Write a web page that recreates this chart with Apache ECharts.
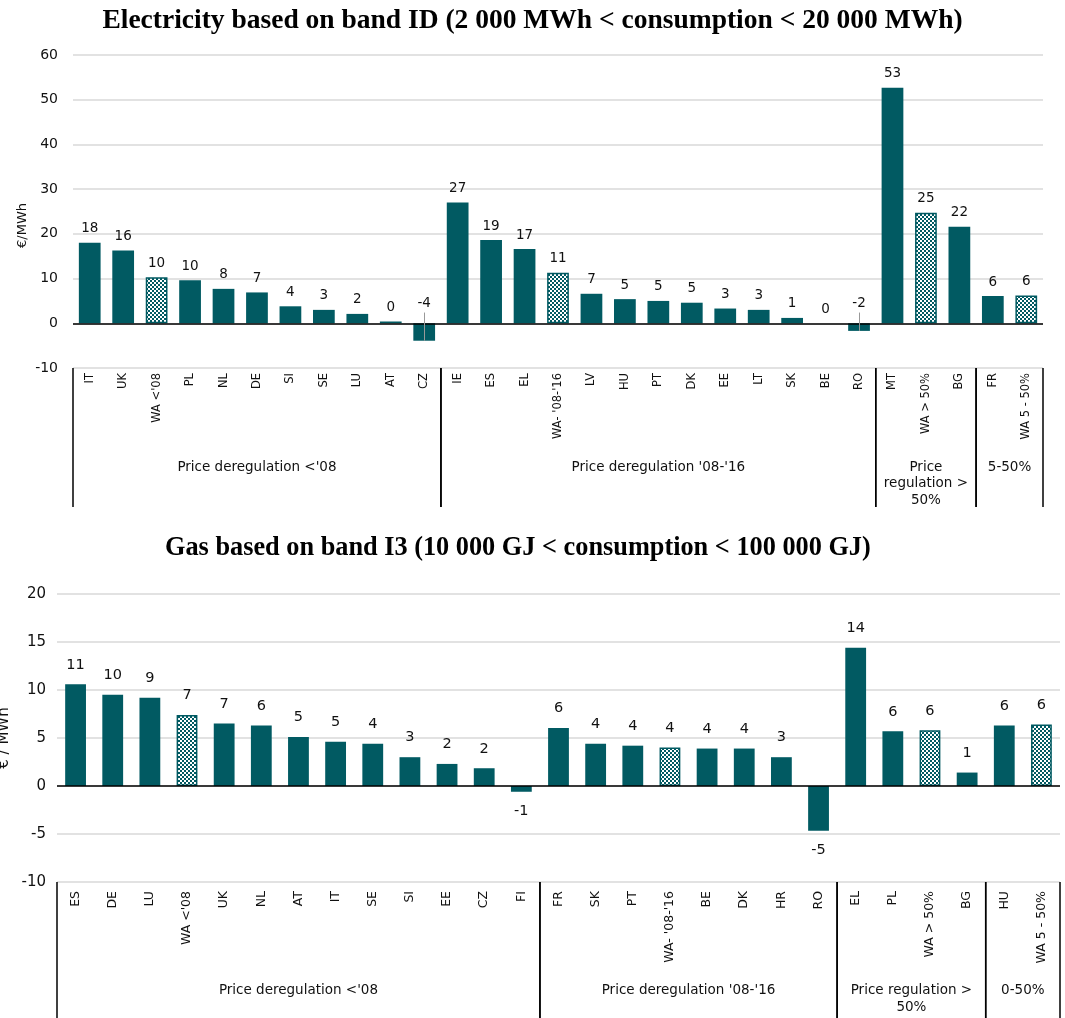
<!DOCTYPE html>
<html>
<head>
<meta charset="utf-8">
<script src="https://cdn.jsdelivr.net/npm/echarts@6/dist/echarts.min.js"></script>
<style>
html,body{margin:0;padding:0;background:#fff;}
#chart{width:1065px;height:1018px;}
</style>
</head>
<body>
<div id="chart"></div>
<script>
// ---------- DATA ----------
const elecCats = ['IT','UK',"WA <'08",'PL','NL','DE','SI','SE','LU','AT','CZ','IE','ES','EL',"WA- '08-'16",'LV','HU','PT','DK','EE','LT','SK','BE','RO','MT','WA > 50%','BG','FR','WA 5 - 50%'];
const elecVals = [18.0,16.3,10.3,9.6,7.7,6.9,3.8,3.0,2.1,0.4,-3.9,27.0,18.6,16.6,11.3,6.6,5.4,5.0,4.6,3.3,3.0,1.2,0.0,-1.7,52.7,24.7,21.6,6.1,6.2];
const elecGroups = ["Price deregulation <'08","Price deregulation '08-'16","Price\nregulation >\n50%","5-50%"];
const elecGroupSizes = [11,13,3,2];
const elecTicks = {min:-10,max:60,step:10};

const gasCats = ['ES','DE','LU',"WA <'08",'UK','NL','AT','IT','SE','SI','EE','CZ','FI','FR','SK','PT',"WA- '08-'16",'BE','DK','HR','RO','EL','PL','WA > 50%','BG','HU','WA 5 - 50%'];
const gasVals = [10.6,9.5,9.2,7.4,6.5,6.3,5.1,4.6,4.4,3.0,2.3,1.85,-0.6,6.05,4.4,4.2,4.0,3.9,3.9,3.0,-4.65,14.4,5.7,5.8,1.4,6.3,6.4];
const gasGroups = ["Price deregulation <'08","Price deregulation '08-'16","Price regulation >\n50%","0-50%"];
const gasGroupSizes = [13,8,4,2];
const gasTicks = {min:-10,max:20,step:5};

// ---------- STYLE ----------
const TEAL = '#015a62';
const FONT = 'DejaVu Sans';
const LEADER_TOP = 2.4;

function makePattern(){
  const c = document.createElement('canvas');
  c.width = 4; c.height = 4;
  const ctx = c.getContext('2d');
  ctx.fillStyle = TEAL; ctx.fillRect(0,0,4,4);
  ctx.fillStyle = '#ffffff';
  ctx.fillRect(0,0,2,2); ctx.fillRect(2,2,2,2);
  return c;
}
const patternStyle = {color:{image:makePattern(),repeat:'repeat'},borderColor:TEAL,borderWidth:1.5};

function groupRanges(sizes){
  let s = 0; return sizes.map(n => { const r=[s, s+n]; s+=n; return r; });
}

function barData(cats, vals, negPos, negDist){
  return vals.map((v,i) => {
    const d = {value:v};
    if (cats[i].indexOf('WA') === 0) d.itemStyle = patternStyle;
    if (v < 0) d.label = {position:negPos, distance:negDist};
    return d;
  });
}

function groupRenderer(names, lineLen, textTop, fontSize, lineH){
  return function(params, api){
    const s = api.value(0), e = api.value(1);
    const band = api.size([1,0])[0];
    const p0 = api.coord([s,0]), p1 = api.coord([e-1,0]);
    const x0 = p0[0]-band/2, x1 = p1[0]+band/2;
    const yb = params.coordSys.y + params.coordSys.height;
    return {type:'group', children:[
      {type:'line', shape:{x1:x0,y1:yb,x2:x0,y2:yb+lineLen}, style:{stroke:'#000',lineWidth:1.5}},
      {type:'line', shape:{x1:x1,y1:yb,x2:x1,y2:yb+lineLen}, style:{stroke:'#000',lineWidth:1.5}},
      {type:'text', x:(x0+x1)/2, y:yb+textTop, style:{text:names[params.dataIndex], fill:'#111', fontSize:fontSize, fontFamily:FONT, align:'center', verticalAlign:'top', lineHeight:lineH}}
    ]};
  };
}

const elecLeaders = [];
elecVals.forEach((v,i)=>{ if(v<0) elecLeaders.push([{coord:[elecCats[i],LEADER_TOP],lineStyle:{color:'#999',width:1,type:'solid'}},{coord:[elecCats[i],v]}]); });

const chart = echarts.init(document.getElementById('chart'), null, {renderer:'canvas'});
const option = {
  animation:false,
  backgroundColor:'#fff',
  title:[
    {text:'Electricity based on band ID (2 000 MWh < consumption < 20 000 MWh)', left:'center', top:2,
     textStyle:{fontFamily:'Liberation Serif', fontWeight:'bold', fontSize:27.5, color:'#000'}},
    {text:'Gas based on band I3 (10 000 GJ < consumption < 100 000 GJ)', left:160, top:530,
     textStyle:{fontFamily:'Liberation Serif', fontWeight:'bold', fontSize:26.3, color:'#000'}}
  ],
  grid:[
    {left:73,right:22,top:55,height:313,outerBoundsMode:'none',containLabel:false},
    {left:57,right:5,top:594,height:288,outerBoundsMode:'none',containLabel:false}
  ],
  xAxis:[
    {gridIndex:0,type:'category',data:elecCats,axisLine:{show:false},axisTick:{show:false},
     axisLabel:{interval:0,rotate:90,fontSize:11.5,fontFamily:FONT,color:'#111',margin:5}},
    {gridIndex:1,type:'category',data:gasCats,axisLine:{show:false},axisTick:{show:false},
     axisLabel:{interval:0,rotate:90,fontSize:12.5,fontFamily:FONT,color:'#111',margin:9}}
  ],
  yAxis:[
    {gridIndex:0,type:'value',min:elecTicks.min,max:elecTicks.max,interval:elecTicks.step,
     name:'€/MWh',nameLocation:'middle',nameGap:44,nameMoveOverlap:false,
     nameTextStyle:{fontFamily:FONT,fontSize:13,color:'#111',padding:[0,28,0,0]},
     axisLine:{show:false},axisTick:{show:false},
     axisLabel:{fontFamily:FONT,fontSize:14,color:'#111',margin:15},
     splitLine:{lineStyle:{color:'#d9d9d9',width:1.5}}},
    {gridIndex:1,type:'value',min:gasTicks.min,max:gasTicks.max,interval:gasTicks.step,
     name:'€ / MWh',nameLocation:'middle',nameGap:45,nameMoveOverlap:false,
     nameTextStyle:{fontFamily:FONT,fontSize:15,color:'#111'},
     axisLine:{show:false},axisTick:{show:false},
     axisLabel:{fontFamily:FONT,fontSize:15,color:'#111',margin:11},
     splitLine:{lineStyle:{color:'#d9d9d9',width:1.5}}}
  ],
  series:[
    {type:'bar',xAxisIndex:0,yAxisIndex:0,data:barData(elecCats,elecVals,'top',13),barWidth:'65%',
     itemStyle:{color:TEAL},
     label:{show:true,position:'top',distance:7,fontFamily:FONT,fontSize:13.5,color:'#111',
            formatter:p=>String(Math.round(p.value))},
     markLine:{silent:true,symbol:['none','none'],label:{show:false},animation:false,
       data:[{yAxis:0,lineStyle:{color:'#000',width:1.5,type:'solid'}}].concat(elecLeaders)}},
    {type:'custom',xAxisIndex:0,yAxisIndex:0,data:groupRanges(elecGroupSizes),encode:{x:0,y:1},silent:true,
     renderItem:groupRenderer(elecGroups,139,91,13.5,16.5)},
    {type:'bar',xAxisIndex:1,yAxisIndex:1,data:barData(gasCats,gasVals,'bottom',12),barWidth:'56%',
     itemStyle:{color:TEAL},
     label:{show:true,position:'top',distance:12,fontFamily:FONT,fontSize:14.5,color:'#111',
            formatter:p=>String(Math.round(p.value))},
     markLine:{silent:true,symbol:['none','none'],label:{show:false},animation:false,
       data:[{yAxis:0,lineStyle:{color:'#000',width:1.5,type:'solid'}}]}},
    {type:'custom',xAxisIndex:1,yAxisIndex:1,data:groupRanges(gasGroupSizes),encode:{x:0,y:1},silent:true,
     renderItem:groupRenderer(gasGroups,140,100,13.5,17)}
  ]
};
chart.setOption(option);
</script>
</body>
</html>
